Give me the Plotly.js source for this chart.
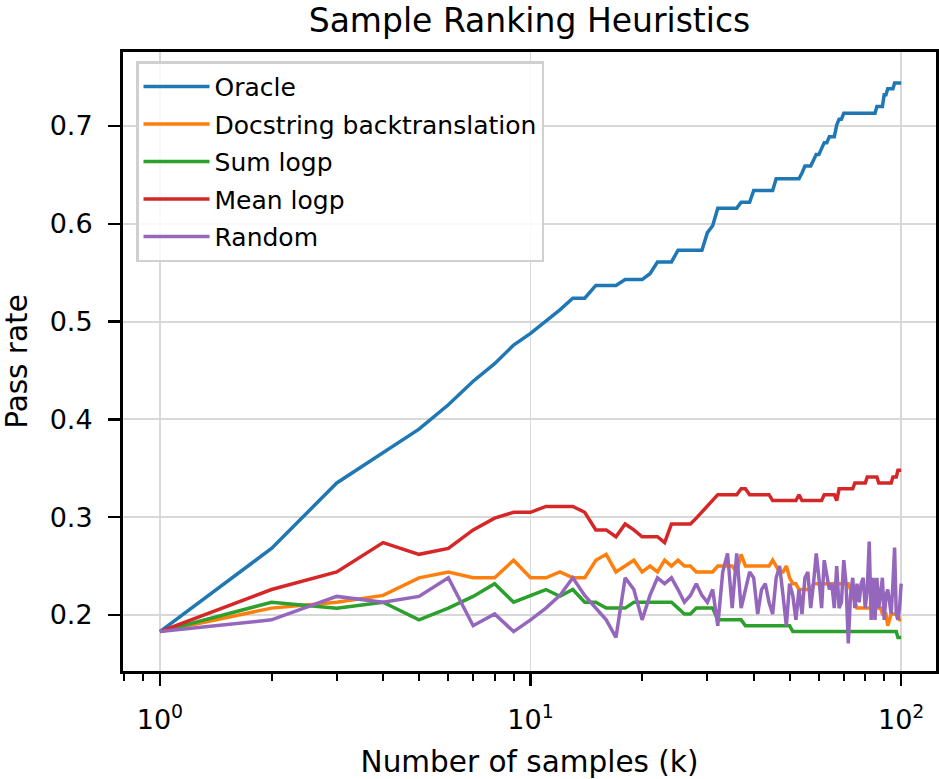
<!DOCTYPE html>
<html>
<head>
<meta charset="utf-8">
<script src="https://cdn.plot.ly/plotly-3.0.1.min.js"></script>
<style>
  html, body { margin: 0; padding: 0; background: #fff; }
  #chart { width: 939px; height: 779px; }
</style>
</head>
<body>
<div id="chart"></div>
<script>
// number of samples k
var ks = [1, 2, 3, 4, 5, 6, 7, 8, 9, 10,
  11, 12, 13, 14, 15, 16, 17, 18, 19, 20,
  21, 22, 23, 24, 25, 26, 27, 28, 29, 30,
  31, 32, 33, 34, 35, 36, 37, 38, 39, 40,
  41, 42, 43, 44, 45, 46, 47, 48, 49, 50,
  51, 52, 53, 54, 55, 56, 57, 58, 59, 60,
  61, 62, 63, 64, 65, 66, 67, 68, 69, 70,
  71, 72, 73, 74, 75, 76, 77, 78, 79, 80,
  81, 82, 83, 84, 85, 86, 87, 88, 89, 90,
  91, 92, 93, 94, 95, 96, 97, 98, 99, 100];

// pass rates
var oracle = [.183, .268, .335, .366, .390, .415, .439, .457, .476, .488,
  .500, .512, .524, .524, .537, .537, .537, .543, .543, .543,
  .549, .561, .561, .561, .573, .573, .573, .573, .573, .591,
  .598, .616, .616, .616, .616, .616, .622, .622, .622, .634,
  .634, .634, .634, .634, .634, .646, .646, .646, .646, .646,
  .646, .646, .646, .652, .659, .659, .659, .665, .671, .671,
  .677, .683, .683, .689, .689, .689, .701, .707, .707, .713,
  .713, .713, .713, .713, .713, .713, .713, .713, .713, .713,
  .713, .713, .713, .713, .713, .720, .720, .720, .720, .732,
  .732, .738, .738, .738, .738, .744, .744, .744, .744, .744];

var docstring = [.183, .207, .213, .220, .238, .244, .238, .238, .256, .238,
  .238, .244, .238, .238, .256, .262, .244, .250, .256, .244,
  .250, .244, .256, .250, .256, .250, .250, .244, .244, .244,
  .244, .250, .250, .250, .250, .244, .262, .250, .250, .250,
  .250, .250, .250, .250, .256, .250, .244, .244, .250, .238,
  .232, .232, .226, .226, .226, .226, .226, .232, .232, .232,
  .232, .232, .232, .232, .232, .232, .232, .232, .232, .232,
  .232, .232, .226, .220, .213, .207, .207, .207, .207, .207,
  .207, .207, .207, .207, .207, .207, .207, .207, .201, .201,
  .201, .189, .195, .201, .201, .201, .201, .201, .195, .195];

var sumLogp = [.183, .213, .207, .213, .195, .207, .219, .232, .213, .220,
  .226, .219, .226, .213, .213, .207, .207, .207, .213, .213,
  .213, .213, .213, .213, .207, .201, .201, .207, .207, .207,
  .207, .195, .195, .195, .195, .195, .195, .189, .189, .189,
  .189, .189, .189, .189, .189, .189, .189, .189, .189, .189,
  .183, .183, .183, .183, .183, .183, .183, .183, .183, .183,
  .183, .183, .183, .183, .183, .183, .183, .183, .183, .183,
  .183, .183, .183, .183, .183, .183, .183, .183, .183, .183,
  .183, .183, .183, .183, .183, .183, .183, .183, .183, .183,
  .183, .183, .183, .183, .183, .183, .183, .177, .177, .177];

var meanLogp = [.183, .226, .244, .274, .262, .268, .287, .299, .305, .305,
  .311, .311, .311, .305, .287, .287, .280, .293, .287, .280,
  .280, .280, .274, .293, .293, .293, .293, .299, .305, .311,
  .317, .323, .323, .323, .323, .323, .329, .329, .323, .323,
  .323, .323, .323, .323, .317, .317, .317, .317, .317, .317,
  .317, .317, .323, .317, .317, .317, .317, .317, .317, .317,
  .317, .323, .323, .323, .323, .323, .317, .329, .329, .329,
  .329, .329, .329, .329, .335, .335, .335, .335, .335, .335,
  .341, .341, .341, .341, .341, .341, .335, .335, .335, .335,
  .335, .335, .335, .335, .341, .341, .341, .348, .348, .348];

var random = [.183, .195, .219, .213, .219, .238, .189, .201, .183, .195,
  .207, .220, .238, .220, .207, .195, .177, .238, .226, .195,
  .220, .238, .232, .238, .226, .213, .220, .232, .220, .213,
  .226, .189, .244, .263, .207, .263, .207, .226, .244, .238,
  .201, .226, .232, .213, .201, .238, .250, .220, .189, .232,
  .220, .195, .226, .201, .238, .244, .207, .232, .263, .238,
  .207, .256, .238, .226, .232, .207, .250, .207, .213, .256,
  .232, .171, .220, .238, .207, .232, .213, .232, .238, .207,
  .226, .275, .195, .238, .195, .238, .207, .226, .238, .195,
  .220, .226, .213, .201, .232, .269, .201, .195, .207, .232];

var seriesNames = ['Oracle', 'Docstring backtranslation', 'Sum logp', 'Mean logp', 'Random'];
var seriesColors = ['#1f77b4', '#ff7f0e', '#2ca02c', '#d62728', '#9467bd'];
var seriesValues = [oracle, docstring, sumLogp, meanLogp, random];

// axis ticks
var xTickVals = [1, 10, 100];
var xTickText = ['10<sup>0</sup>', '10<sup>1</sup>', '10<sup>2</sup>'];
var xMinorVals = [0.8, 0.9, 2, 3, 4, 5, 6, 7, 8, 9, 20, 30, 40, 50, 60, 70, 80, 90];
var yTickVals = [0.2, 0.3, 0.4, 0.5, 0.6, 0.7];

var fontFamily = 'DejaVu Sans, sans-serif';

var data = [];
for (var i = 0; i < seriesNames.length; i++) {
  data.push({
    x: ks,
    y: seriesValues[i],
    type: 'scatter',
    mode: 'lines',
    name: seriesNames[i],
    legendgroup: 'g' + i,
    line: { color: seriesColors[i], width: 3.5 }
  });
}

var layout = {
  width: 939,
  height: 779,
  margin: { l: 123, r: 3, t: 52, b: 108, pad: 0 },
  paper_bgcolor: '#ffffff',
  plot_bgcolor: '#ffffff',
  font: { family: fontFamily, color: '#000000', size: 26 },
  title: {
    text: 'Sample Ranking Heuristics',
    font: { family: fontFamily, size: 33, color: '#000000' },
    x: 0.5,
    xref: 'paper',
    y: 0.974,
    yref: 'container',
    yanchor: 'middle'
  },
  xaxis: {
    type: 'log',
    range: [-0.0997, 2.094],
    tickmode: 'array',
    tickvals: xTickVals,
    ticktext: xTickText,
    ticks: 'outside',
    ticklen: 12,
    tickwidth: 2.5,
    tickcolor: '#000000',
    tickfont: { size: 27 },
    ticklabelstandoff: 11,
    showline: true,
    mirror: true,
    linecolor: '#000000',
    linewidth: 3,
    showgrid: true,
    gridcolor: '#d8d8d8',
    gridwidth: 1.8,
    zeroline: false,
    minor: {
      tickmode: 'array',
      tickvals: xMinorVals,
      ticks: 'outside',
      ticklen: 7,
      tickwidth: 2,
      tickcolor: '#000000',
      showgrid: false
    },
    title: {
      text: 'Number of samples (k)',
      font: { size: 29.5 },
      standoff: 30
    }
  },
  yaxis: {
    range: [0.1427, 0.7757],
    tickmode: 'array',
    tickvals: yTickVals,
    tickformat: '.1f',
    ticks: 'outside',
    ticklen: 12,
    tickwidth: 2.5,
    tickcolor: '#000000',
    tickfont: { size: 27 },
    ticklabelstandoff: 10,
    showline: true,
    mirror: true,
    linecolor: '#000000',
    linewidth: 3,
    showgrid: true,
    gridcolor: '#d8d8d8',
    gridwidth: 1.8,
    zeroline: false,
    title: {
      text: 'Pass rate',
      font: { size: 29.5 },
      standoff: 22
    }
  },
  legend: {
    x: 0.016,
    y: 0.985,
    xanchor: 'left',
    yanchor: 'top',
    traceorder: 'grouped',
    tracegroupgap: 2,
    itemwidth: 66,
    bgcolor: 'rgba(255,255,255,0.85)',
    bordercolor: '#d0d0d0',
    borderwidth: 2.5,
    font: { family: fontFamily, size: 25, color: '#000000' }
  },
  showlegend: true
};

Plotly.newPlot('chart', data, layout, { staticPlot: true, displayModeBar: false });
</script>
</body>
</html>
